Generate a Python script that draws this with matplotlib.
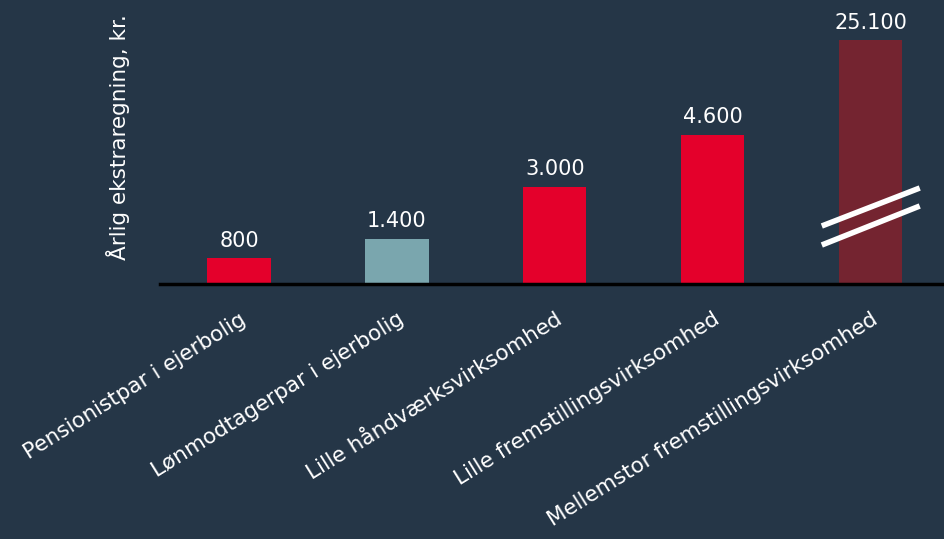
import matplotlib
matplotlib.use("Agg")
import matplotlib.pyplot as plt

categories = ["Pensionistpar i ejerbolig", "Lønmodtagerpar i ejerbolig",
              "Lille håndværksvirksomhed", "Lille fremstillingsvirksomhed",
              "Mellemstor fremstillingsvirksomhed"]
values = [800, 1400, 3000, 4600, 25100]
value_labels = ["800", "1.400", "3.000", "4.600", "25.100"]
bar_colors = ["#E4002B", "#7AA6AE", "#E4002B", "#E4002B", "#742430"]
axis_cap = 7500  # broken-axis cap for very tall bars

bg = "#253647"
plt.rcParams['font.family'] = ['DejaVu Sans']

fig = plt.figure(figsize=(9.45, 5.39), dpi=100, facecolor=bg)
ax = fig.add_axes([160/945, 1 - 284/539, 1 - 160/945, 284/539])
ax.set_facecolor(bg)

x = list(range(len(categories)))
heights = [min(v, axis_cap) for v in values]
ax.bar(x, heights, width=0.4, color=bar_colors, zorder=2)

for xi, h, lab in zip(x, heights, value_labels):
    ax.text(xi, h + 220, lab, ha='center', va='bottom', color='white', fontsize=15)

# break marks on the capped bar
for xi, v in zip(x, values):
    if v > axis_cap:
        for y0, y1 in [(1785, 2954), (1200, 2400)]:
            ax.plot([xi - 0.31, xi + 0.31], [y0, y1], color='white', lw=4,
                    solid_capstyle='butt', zorder=3)

ax.set_xlim(-0.5, 4.47)
ax.set_ylim(0, 8740)
ax.set_xticks(x)
ax.set_xticklabels(categories, rotation=32, ha='right', rotation_mode='anchor',
                   color='white', fontsize=15.5)
ax.tick_params(axis='x', length=0, pad=18)
ax.set_yticks([])
for s in ['top', 'right', 'left']:
    ax.spines[s].set_visible(False)
ax.spines['bottom'].set_color('black')
ax.spines['bottom'].set_linewidth(2.5)

fig.text(118/945, 1 - 137/539, "Årlig ekstraregning, kr.", rotation=90,
         ha='center', va='center', color='white', fontsize=15.5)

fig.savefig("out.png", dpi=100, facecolor=bg)
